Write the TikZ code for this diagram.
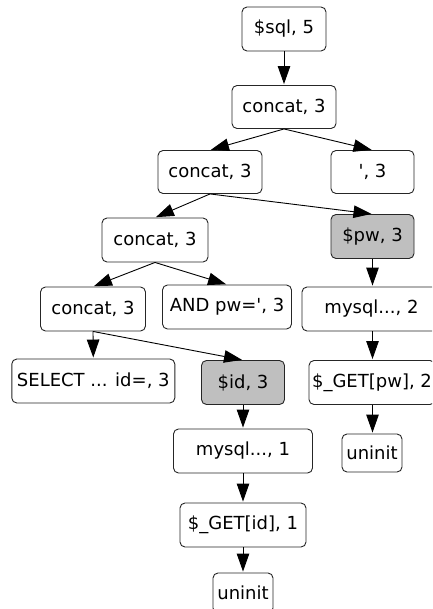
\documentclass[tikz,border=0pt]{standalone}
\usepackage{fontspec}
\newfontfamily\dejavu{DejaVu Sans}
\usetikzlibrary{arrows.meta}

\tikzset{
  tnode/.style={draw=black!85, line width=0.9pt, rounded corners=5pt, fill=white,
    inner sep=0pt, minimum height=44pt, align=center,
    font=\dejavu\fontsize{18}{21}\selectfont},
  tainted/.style={tnode, fill=black!25},
  edge/.style={draw=black, line width=0.9pt,
    -{Triangle[length=18pt,width=12.5pt]}, shorten >=1pt}
}

\begin{document}
\begin{tikzpicture}[x=1pt, y=-1pt]
\useasboundingbox (0,0) rectangle (432,609);
\clip (0,0) rectangle (432,609);

% expression tree of the query string
\node[tnode, minimum width=84pt]  (sql)   at (284,29)    {\$sql, 5};
\node[tnode, minimum width=104pt, minimum height=43pt] (c2) at (284,107) {concat, 3};
\node[tnode, minimum width=104pt, minimum height=43pt] (c3) at (210,172) {concat, 3};
\node[tnode, minimum width=83pt, minimum height=43pt]  (q3) at (372.5,172) {\textquotesingle, 3};
\node[tnode, minimum width=106pt] (c4)    at (155,240)   {concat, 3};
\node[tainted, minimum width=83pt] (pw)   at (372.5,236.5) {\$pw, 3};
\node[tnode, minimum width=105pt] (c5)    at (93,309)    {concat, 3};
\node[tnode, minimum width=129pt] (andpw) at (227,307)    {AND pw=\textquotesingle, 3};
\node[tnode, minimum width=139pt] (my2)   at (371.5,309) {mysql..., 2};
\node[tnode, minimum width=163pt] (sel)   at (93.3,381)  {SELECT ... id=, 3};
\node[tainted, minimum width=83pt] (id)   at (243,382.5) {\$id, 3};
\node[tnode, minimum width=126pt] (getpw) at (372,382.5) {\$\_GET[pw], 2};
\node[tnode, minimum width=139pt] (my1)   at (243,451)   {mysql..., 1};
\node[tnode, minimum width=60pt, minimum height=38pt] (un1) at (372,453) {uninit};
\node[tnode, minimum width=126pt] (getid) at (243,525)   {\$\_GET[id], 1};
\node[tnode, minimum width=60pt, minimum height=40pt] (un2) at (243,593) {uninit};

% data-flow edges
\draw[edge] (sql.south) -- (c2.north);
\draw[edge] (c2.south) -- (c3.north);
\draw[edge] (c2.south) -- (q3.north);
\draw[edge] (c3.south) -- (c4.north);
\draw[edge] (c3.south) -- (pw.north);
\draw[edge] (c4.south) -- (c5.north);
\draw[edge] (c4.south) -- (andpw.north);
\draw[edge] (c5.south) -- (sel.north);
\draw[edge] (c5.south) -- (id.north);
\draw[edge] (pw.south) -- (pw.south |- my2.north);
\draw[edge] (my2.south -| pw.south) -- (pw.south |- getpw.north);
\draw[edge] (getpw.south -| pw.south) -- (pw.south |- un1.north);
\draw[edge] (id.south) -- (my1.north);
\draw[edge] (my1.south) -- (getid.north);
\draw[edge] (getid.south) -- (un2.north);
\end{tikzpicture}
\end{document}
